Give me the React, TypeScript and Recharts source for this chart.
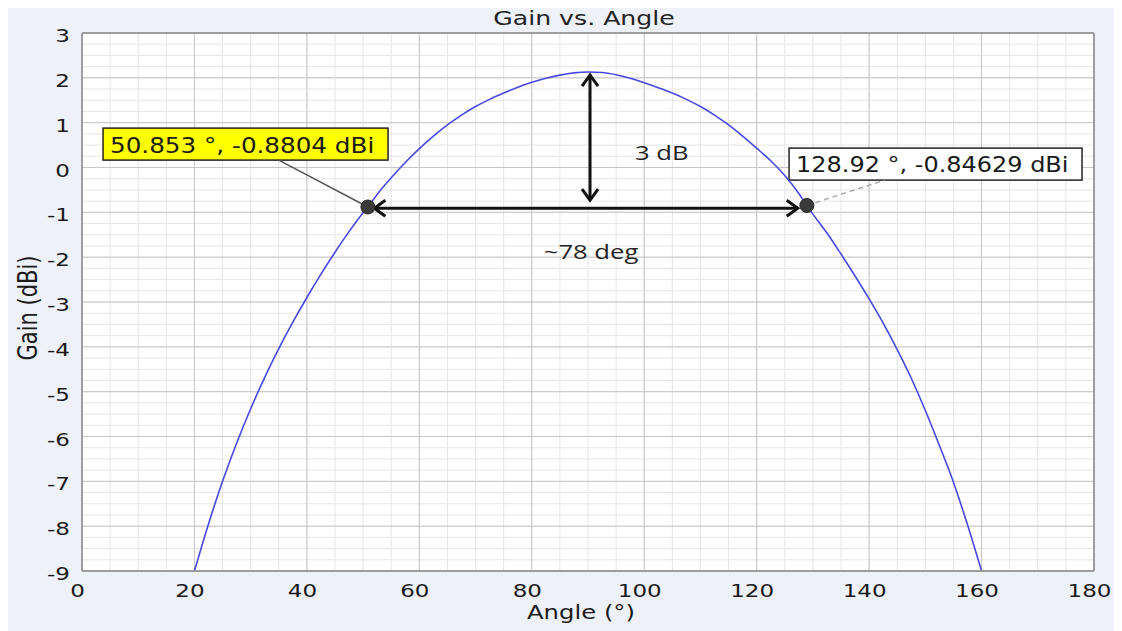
import React from 'react';
import {
  LineChart,
  Line,
  XAxis,
  YAxis,
  CartesianGrid,
  ReferenceLine,
  ReferenceDot,
  ReferenceArea,
} from 'recharts';

// ---- data ----
const angles = [
  20, 22.5, 25, 27.5, 30, 32.5, 35, 37.5, 40, 42.5, 45, 47.5, 50, 50.853, 52.5, 55, 57.5, 60, 62.5,
  65, 67.5, 70, 72.5, 75, 77.5, 80, 82.5, 85, 87.5, 90, 92.5, 95, 97.5, 100, 102.5, 105, 107.5,
  110, 112.5, 115, 117.5, 120, 122.5, 125, 127.5, 128.92, 130, 132.5, 135, 137.5, 140, 142.5, 145,
  147.5, 150, 152.5, 155, 157.5, 160,
];
const gains = [
  -9.0, -7.95, -7.0, -6.15, -5.38, -4.68, -4.04, -3.45, -2.9, -2.38, -1.89, -1.43, -1.01, -0.8804,
  -0.6, -0.23, 0.11, 0.42, 0.7, 0.95, 1.17, 1.36, 1.52, 1.66, 1.79, 1.9, 1.99, 2.06, 2.11, 2.13,
  2.12, 2.07, 1.99, 1.89, 1.78, 1.66, 1.52, 1.36, 1.17, 0.95, 0.7, 0.43, 0.15, -0.18, -0.58,
  -0.84629, -1.04, -1.46, -1.93, -2.42, -2.93, -3.47, -4.06, -4.7, -5.42, -6.2, -7.02, -7.97, -9.0,
];

const xTicks = [0, 20, 40, 60, 80, 100, 120, 140, 160, 180];
const yTicks = [-9, -8, -7, -6, -5, -4, -3, -2, -1, 0, 1, 2, 3];
const minorXTicks = [
  0, 5, 10, 15, 20, 25, 30, 35, 40, 45, 50, 55, 60, 65, 70, 75, 80, 85, 90, 95, 100, 105, 110, 115,
  120, 125, 130, 135, 140, 145, 150, 155, 160, 165, 170, 175, 180,
];
const minorYTicks = [
  -9, -8.75, -8.5, -8.25, -8, -7.75, -7.5, -7.25, -7, -6.75, -6.5, -6.25, -6, -5.75, -5.5, -5.25,
  -5, -4.75, -4.5, -4.25, -4, -3.75, -3.5, -3.25, -3, -2.75, -2.5, -2.25, -2, -1.75, -1.5, -1.25,
  -1, -0.75, -0.5, -0.25, 0, 0.25, 0.5, 0.75, 1, 1.25, 1.5, 1.75, 2, 2.25, 2.5, 2.75, 3,
];

const leftPoint = { angle: 50.853, gain: -0.8804, label: '50.853 °, -0.8804 dBi' };
const rightPoint = { angle: 128.92, gain: -0.84629, label: '128.92 °, -0.84629 dBi' };

const data = angles.map((a, i) => ({ angle: a, gain: gains[i] }));

const FONT = '"DejaVu Sans", Verdana, sans-serif';
const NOTE_FONT = '"Open Sans", "Noto Sans", sans-serif';
const STRETCH = 1.28;

const XTick = (p: any) => (
  <text
    transform={`translate(${p.x - 4.5},${p.y + 26}) scale(${STRETCH},1)`}
    textAnchor="middle"
    fontSize={18}
    fontFamily={FONT}
    fill="#1a1a1a"
  >
    {p.payload.value}
  </text>
);

const YTick = (p: any) => (
  <text
    transform={`translate(${p.x - 12},${p.y + 9}) scale(${STRETCH},1)`}
    textAnchor="end"
    fontSize={18}
    fontFamily={FONT}
    fill="#1a1a1a"
  >
    {p.payload.value}
  </text>
);

const DoubleArrow = (p: any) => {
  const { x1, y1, x2, y2 } = p;
  const dx = x2 - x1;
  const dy = y2 - y1;
  const len = Math.hypot(dx, dy) || 1;
  const ux = dx / len;
  const uy = dy / len;
  const nx = -uy;
  const ny = ux;
  const L = 11;
  const W = 8;
  const head = (tx: number, ty: number, s: number) =>
    `M${tx - s * ux * L + nx * W},${ty - s * uy * L + ny * W} L${tx},${ty} L${
      tx - s * ux * L - nx * W
    },${ty - s * uy * L - ny * W}`;
  return (
    <g>
      <line x1={x1} y1={y1} x2={x2} y2={y2} stroke="#111" strokeWidth={3} />
      <path
        d={`${head(x2, y2, 1)} ${head(x1, y1, -1)}`}
        fill="none"
        stroke="#111"
        strokeWidth={3}
      />
    </g>
  );
};

const makeBox = (text: string, fill: string, baseline: number, sx: number) => (p: any) => (
  <g>
    <rect
      x={p.x}
      y={p.y}
      width={p.width}
      height={p.height}
      fill={fill}
      stroke="#222"
      strokeWidth={1.5}
    />
    <text
      transform={`translate(${p.x + 7},${p.y + baseline}) scale(${sx},1)`}
      fontSize={22}
      fontFamily={FONT}
      fill="#1a1a1a"
    >
      {text}
    </text>
  </g>
);

const makeNote = (text: string, anchor: 'start' | 'middle') => (p: any) => (
  <text
    transform={`translate(${p.cx},${p.cy}) scale(${STRETCH},1)`}
    textAnchor={anchor}
    fontSize={20}
    fontFamily={NOTE_FONT}
    fill="#222"
  >
    {text}
  </text>
);

export default function App() {
  return (
    <div style={{ position: 'relative', width: 1114, height: 623, background: '#eff1f9' }}>
      <LineChart
        width={1114}
        height={623}
        data={data}
        margin={{ top: 25, right: 28, left: 0, bottom: 0 }}
      >
        <XAxis
          xAxisId="minor"
          type="number"
          dataKey="angle"
          domain={[0, 180]}
          ticks={minorXTicks}
          interval={0}
          hide
          allowDataOverflow
        />
        <YAxis
          yAxisId="minor"
          type="number"
          domain={[-9, 3]}
          ticks={minorYTicks}
          interval={0}
          hide
          allowDataOverflow
        />
        <CartesianGrid xAxisId="minor" yAxisId="minor" stroke="#e6e6e6" fill="#ffffff" />
        <CartesianGrid stroke="#c6c6c6" />
        <XAxis
          type="number"
          dataKey="angle"
          domain={[0, 180]}
          ticks={xTicks}
          interval={0}
          allowDataOverflow
          height={60}
          tickLine={false}
          tickSize={0}
          tickMargin={0}
          tick={<XTick />}
          axisLine={{ stroke: '#8a8a8a', strokeWidth: 1.5 }}
          label={{
            content: (props: any) => {
              const vb = props.viewBox || { x: 74, y: 563, width: 1012 };
              return (
                <text
                  transform={`translate(${vb.x + vb.width / 2 - 7},${vb.y + 48}) scale(${STRETCH},1)`}
                  textAnchor="middle"
                  fontSize={19}
                  fontFamily={FONT}
                  fill="#1a1a1a"
                >
                  Angle (°)
                </text>
              );
            },
          }}
        />
        <YAxis
          type="number"
          domain={[-9, 3]}
          ticks={yTicks}
          interval={0}
          allowDataOverflow
          width={74}
          tickLine={false}
          tickSize={0}
          tickMargin={0}
          tick={<YTick />}
          axisLine={{ stroke: '#8a8a8a', strokeWidth: 1.5 }}
          label={{
            content: (props: any) => {
              const vb = props.viewBox || { x: 0, y: 25, width: 74, height: 538 };
              return (
                <text
                  transform={`translate(29,${vb.y + vb.height / 2 + 6}) scale(${STRETCH},1) rotate(-90)`}
                  textAnchor="middle"
                  fontSize={21}
                  fontFamily={FONT}
                  fill="#1a1a1a"
                >
                  Gain (dBi)
                </text>
              );
            },
          }}
        />
        <ReferenceLine y={3} stroke="#8a8a8a" strokeWidth={1.5} />
        <ReferenceLine x={180} stroke="#8a8a8a" strokeWidth={1.5} />

        <Line
          type="monotone"
          dataKey="gain"
          stroke="#4848e2"
          strokeWidth={1.6}
          dot={false}
          activeDot={false}
          isAnimationActive={false}
        />

        <ReferenceLine
          segment={[
            { x: 35.0, y: 0.165 },
            { x: leftPoint.angle, y: leftPoint.gain },
          ]}
          stroke="#555"
          strokeWidth={1.5}
        />
        <ReferenceLine
          segment={[
            { x: rightPoint.angle, y: rightPoint.gain },
            { x: 142.8, y: -0.281 },
          ]}
          stroke="#aaaaaa"
          strokeWidth={1.5}
          strokeDasharray="5 4"
        />

        <ReferenceArea
          x1={3.74}
          x2={54.43}
          y1={0.879}
          y2={0.165}
          shape={makeBox(leftPoint.label, '#ffff00', 25.3, 1.12)}
        />
        <ReferenceArea
          x1={125.76}
          x2={177.87}
          y1={0.433}
          y2={-0.281}
          shape={makeBox(rightPoint.label, '#ffffff', 23.7, 1.09)}
        />

        <ReferenceLine
          segment={[
            { x: 52.0, y: -0.91 },
            { x: 127.3, y: -0.91 },
          ]}
          shape={DoubleArrow}
        />
        <ReferenceLine
          segment={[
            { x: 90.36, y: 2.06 },
            { x: 90.36, y: -0.73 },
          ]}
          shape={DoubleArrow}
        />

        <ReferenceDot
          x={leftPoint.angle}
          y={leftPoint.gain}
          r={7}
          fill="#3a3a3a"
          stroke="#262626"
          strokeWidth={1}
        />
        <ReferenceDot
          x={rightPoint.angle}
          y={rightPoint.gain}
          r={7}
          fill="#3a3a3a"
          stroke="#262626"
          strokeWidth={1}
        />

        <ReferenceDot x={98.36} y={0.165} r={1} shape={makeNote('3 dB', 'start')} />
        <ReferenceDot x={90.54} y={-2.045} r={1} shape={makeNote('~78 deg', 'middle')} />
      </LineChart>
      <svg
        width={1114}
        height={40}
        style={{ position: 'absolute', left: 0, top: 0, pointerEvents: 'none' }}
      >
        <text
          transform={`translate(576,17) scale(1.26,1)`}
          textAnchor="middle"
          fontSize={20}
          fontFamily={FONT}
          fill="#222"
        >
          Gain vs. Angle
        </text>
      </svg>
    </div>
  );
}
